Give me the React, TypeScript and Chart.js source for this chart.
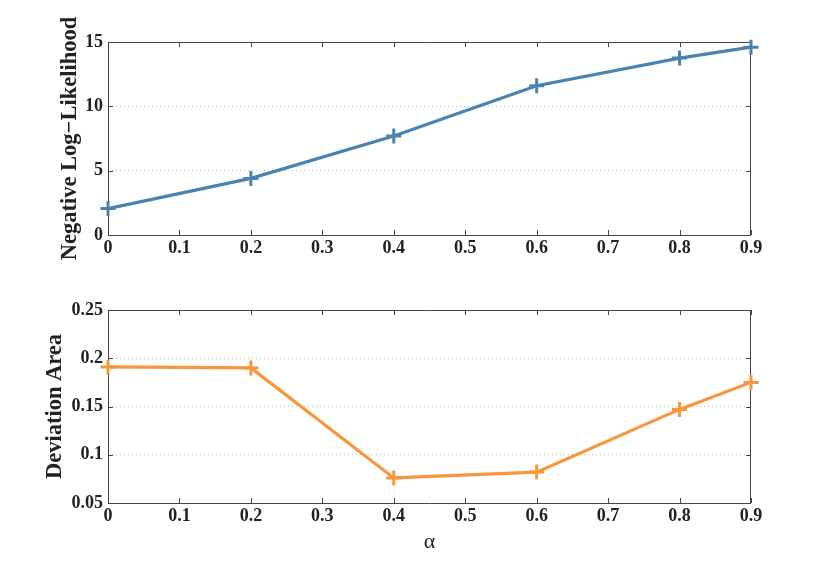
import React, { useEffect, useRef } from "react";
import { Chart, registerables } from "chart.js";

Chart.register(...registerables);

const alphaValues = [0, 0.2, 0.4, 0.6, 0.8, 0.9];
const nllValues = [2.05, 4.4, 7.7, 11.6, 13.75, 14.6];
const devValues = [0.191, 0.19, 0.076, 0.082, 0.147, 0.175];
const topYTitle = "Negative Log\u2212Likelihood";
const bottomYTitle = "Deviation Area";
const xTitle = "\u03b1";

const FONT = "'Liberation Serif', 'Times New Roman', serif";

const framePlugin = {
  id: "frame",
  beforeDatasetsDraw(chart: any) {
    const { ctx, chartArea } = chart;
    const { left, right, top, bottom } = chartArea;
    const xs = chart.scales.x;
    const ys = chart.scales.y;
    const len = 5;
    ctx.save();
    ctx.strokeStyle = "#444";
    ctx.lineWidth = 1;
    ctx.beginPath();
    ctx.rect(left + 0.5, top + 0.5, right - left - 1, bottom - top);
    for (const t of xs.ticks) {
      const px = Math.round(xs.getPixelForValue(t.value)) + 0.5;
      ctx.moveTo(px, bottom);
      ctx.lineTo(px, bottom - len);
      ctx.moveTo(px, top);
      ctx.lineTo(px, top + len);
    }
    for (const t of ys.ticks) {
      const py = Math.round(ys.getPixelForValue(t.value)) + 0.5;
      ctx.moveTo(left, py);
      ctx.lineTo(left + len, py);
      ctx.moveTo(right, py);
      ctx.lineTo(right - len, py);
    }
    ctx.stroke();
    ctx.restore();
  },
};

function fmt(v: number) {
  return String(Number(v.toFixed(2)));
}

function buildConfig(opts: {
  values: number[];
  color: string;
  yMin: number;
  yMax: number;
  yStep: number;
  yTitle: string;
  yTitlePad: number;
  padTop: number;
  xHeight: number;
  xTitle?: string;
}) {
  return {
    type: "line",
    data: {
      datasets: [
        {
          data: alphaValues.map((a, i) => ({ x: a, y: opts.values[i] })),
          borderColor: opts.color,
          backgroundColor: opts.color,
          borderWidth: 3.2,
          pointStyle: "cross",
          pointRadius: 7.5,
          pointBorderWidth: 3,
          pointBorderColor: opts.color,
          tension: 0,
          clip: false,
        },
      ],
    },
    options: {
      animation: false,
      responsive: false,
      layout: { padding: { top: opts.padTop, right: 79, left: 0, bottom: 0 } },
      plugins: { legend: { display: false }, tooltip: { enabled: false } },
      scales: {
        x: {
          type: "linear",
          min: 0,
          max: 0.9,
          ticks: {
            stepSize: 0.1,
            padding: 3,
            color: "#222",
            font: { family: FONT, weight: "bold", size: 18 },
            maxRotation: 0,
            callback: (v: number) => fmt(v),
          },
          grid: { display: false, drawTicks: false },
          border: { display: false },
          title: opts.xTitle
            ? {
                display: true,
                text: opts.xTitle,
                color: "#222",
                font: { family: FONT, size: 22 },
                padding: { top: 0, bottom: 11 },
              }
            : { display: false },
          afterFit: (s: any) => {
            s.height = opts.xHeight;
          },
        },
        y: {
          type: "linear",
          min: opts.yMin,
          max: opts.yMax,
          ticks: {
            stepSize: opts.yStep,
            padding: 5,
            color: "#222",
            font: { family: FONT, weight: "bold", size: 18 },
            callback: (v: number) => fmt(v),
          },
          grid: {
            color: "#bbbbbb",
            lineWidth: 1,
            drawTicks: false,
          },
          border: { display: false, dash: [1, 3] },
          title: {
            display: true,
            text: opts.yTitle,
            color: "#222",
            font: { family: FONT, weight: "bold", size: 22.5 },
            padding: { top: opts.yTitlePad, bottom: 0 },
          },
          afterFit: (s: any) => {
            s.width = 108;
          },
        },
      },
    },
    plugins: [framePlugin],
  } as any;
}

export default function App() {
  const topRef = useRef<HTMLCanvasElement>(null);
  const botRef = useRef<HTMLCanvasElement>(null);

  useEffect(() => {
    const c1 = new Chart(
      topRef.current!,
      buildConfig({
        values: nllValues,
        color: "#4a82b0",
        yMin: 0,
        yMax: 15,
        yStep: 5,
        yTitle: topYTitle,
        yTitlePad: 57,
        padTop: 42,
        xHeight: 48,
      })
    );
    const c2 = new Chart(
      botRef.current!,
      buildConfig({
        values: devValues,
        color: "#f7963a",
        yMin: 0.05,
        yMax: 0.25,
        yStep: 0.05,
        yTitle: bottomYTitle,
        yTitlePad: 42,
        padTop: 27,
        xHeight: 63,
        xTitle: xTitle,
      })
    );
    return () => {
      c1.destroy();
      c2.destroy();
    };
  }, []);

  return (
    <div style={{ position: "absolute", left: 0, top: 0, width: 830, height: 566, background: "#fff" }}>
      <canvas ref={topRef} width={830} height={283} style={{ position: "absolute", left: 0, top: 0, width: 830, height: 283 }} />
      <canvas ref={botRef} width={830} height={283} style={{ position: "absolute", left: 0, top: 283, width: 830, height: 283 }} />
    </div>
  );
}
